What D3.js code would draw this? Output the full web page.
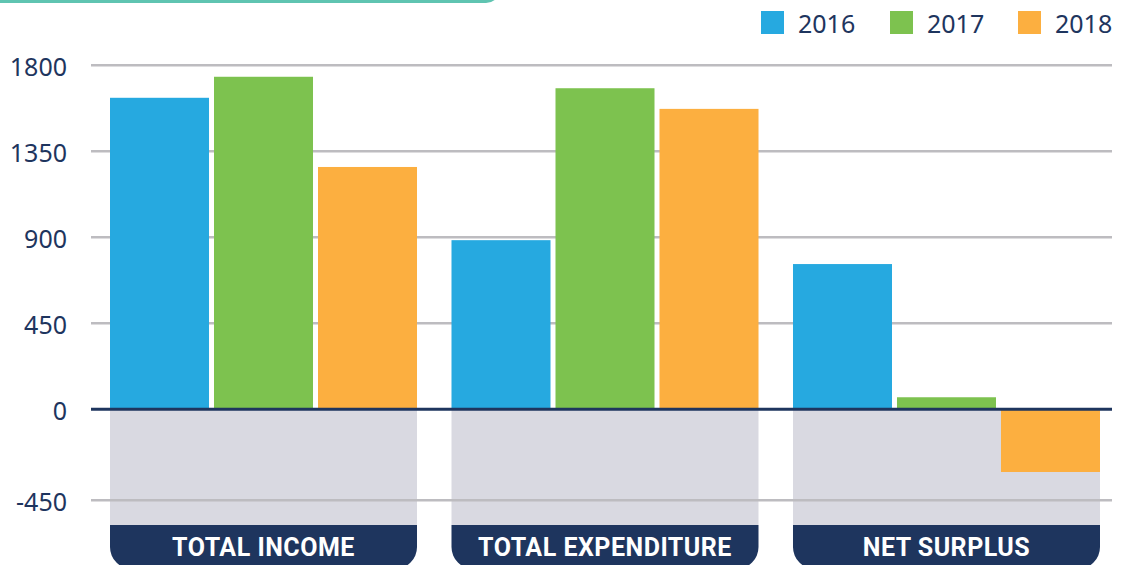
<!DOCTYPE html>
<html>
<head>
<meta charset="utf-8">
<script src="https://cdn.jsdelivr.net/npm/d3@7"></script>
<style>
  html, body { margin: 0; padding: 0; background: #fff; }
  svg { display: block; }
</style>
</head>
<body>
<svg id="chart" width="1121" height="565"></svg>
<script>
// ---- data ----
const categories = ["TOTAL INCOME", "TOTAL EXPENDITURE", "NET SURPLUS"];
const years = ["2016", "2017", "2018"];
const values2016 = [1630, 885, 760];
const values2017 = [1740, 1680, 63];
const values2018 = [1268, 1572, -310];
const yTicks = [-450, 0, 450, 900, 1350, 1800];
const colors = ["#26a9e0", "#7dc24f", "#fcaf40"];

const series = [values2016, values2017, values2018];
const navy = "#1e355e";

const svg = d3.select("#chart");

// top teal tab edge
svg.append("rect")
  .attr("x", -30).attr("y", -40).attr("width", 530).attr("height", 43)
  .attr("rx", 14).attr("fill", "#5fc4b1");

// scales
const y = d3.scaleLinear().domain([-450, 0, 1800]).range([500.3, 409.3, 65.3]);
const x0 = d3.scaleBand().domain(categories).range([110, 1100]).paddingInner(0.101);
const x1 = d3.scaleBand().domain(years).range([0, x0.bandwidth()]).paddingInner(0.048);

const labelTop = 525, labelBottom = 569, r = 22;

// grey backgrounds below zero
svg.append("g").selectAll("rect").data(categories).join("rect")
  .attr("x", d => x0(d)).attr("y", y(0))
  .attr("width", x0.bandwidth()).attr("height", labelTop - y(0))
  .attr("fill", "#d9d9e1");

// gridlines
svg.append("g").selectAll("line").data(yTicks.filter(t => t !== 0)).join("line")
  .attr("x1", 91).attr("x2", 1112)
  .attr("y1", d => y(d)).attr("y2", d => y(d))
  .attr("stroke", "#bdbcc0").attr("stroke-width", 2.5);

// bars
const groups = svg.append("g").selectAll("g").data(categories).join("g")
  .attr("transform", d => `translate(${x0(d)},0)`);
groups.selectAll("rect")
  .data((c, ci) => years.map((yr, si) => ({ yr, v: series[si][ci], si })))
  .join("rect")
  .attr("x", d => x1(d.yr))
  .attr("width", x1.bandwidth())
  .attr("y", d => y(Math.max(0, d.v)))
  .attr("height", d => Math.abs(y(d.v) - y(0)))
  .attr("fill", d => colors[d.si]);

// zero line
svg.append("line")
  .attr("x1", 91).attr("x2", 1112)
  .attr("y1", y(0)).attr("y2", y(0))
  .attr("stroke", navy).attr("stroke-width", 3);

// y axis labels
const yAxis = d3.axisLeft(y).tickValues(yTicks).tickSize(0).tickPadding(0).tickFormat(d => String(d));
const ag = svg.append("g").attr("transform", "translate(67,2)").call(yAxis);
ag.select(".domain").remove();
ag.selectAll("text")
  .attr("fill", navy)
  .style("font-family", "'Noto Sans', sans-serif")
  .style("font-size", "25px");

// category label boxes
const lab = svg.append("g").selectAll("g").data(categories).join("g")
  .attr("transform", d => `translate(${x0(d)},0)`);
lab.append("path")
  .attr("d", () => {
    const w = x0.bandwidth();
    return `M0,${labelTop} H${w} V${labelBottom - r} A${r},${r} 0 0 1 ${w - r},${labelBottom} H${r} A${r},${r} 0 0 1 0,${labelBottom - r} Z`;
  })
  .attr("fill", navy);
lab.append("text")
  .attr("x", x0.bandwidth() / 2)
  .attr("y", 556)
  .attr("text-anchor", "middle")
  .attr("fill", "#fff")
  .style("font-family", "Roboto, sans-serif")
  .style("font-weight", 700)
  .style("font-size", "25px")
  .style("letter-spacing", "0.5px")
  .text(d => d);

// legend
const legendX = [761, 890, 1018];
const leg = svg.append("g").selectAll("g").data(years).join("g")
  .attr("transform", (d, i) => `translate(${legendX[i]},0)`);
leg.append("rect")
  .attr("x", 0).attr("y", 11).attr("width", 23).attr("height", 23)
  .attr("fill", (d, i) => colors[i]);
leg.append("text")
  .attr("x", 37).attr("y", 33)
  .attr("fill", navy)
  .style("font-family", "'Noto Sans', sans-serif")
  .style("font-size", "25px")
  .text(d => d);
</script>
</body>
</html>
